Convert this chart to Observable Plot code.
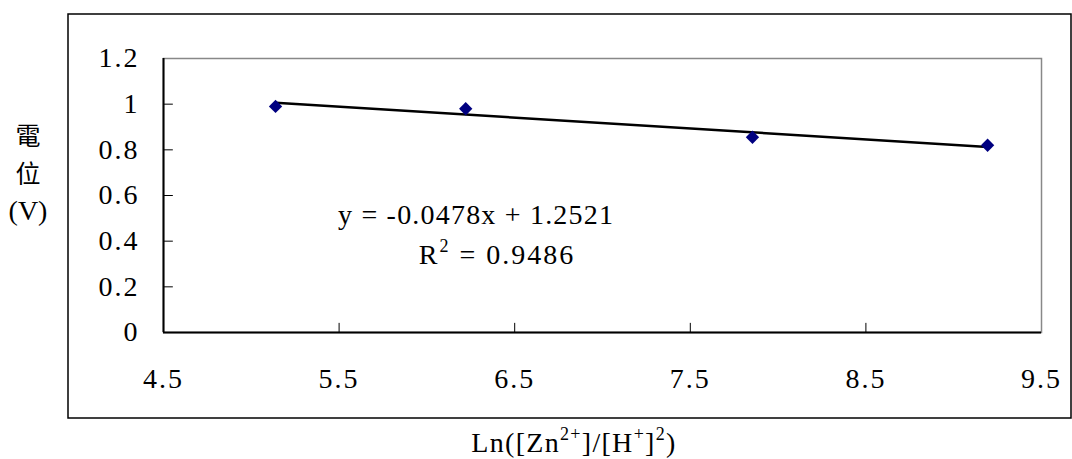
<!DOCTYPE html>
<html>
<head>
<meta charset="utf-8">
<script src="https://cdn.jsdelivr.net/npm/d3@7"></script>
<script src="https://cdn.jsdelivr.net/npm/@observablehq/plot@0.6"></script>
<style>
  html, body { margin: 0; padding: 0; background: #fff; }
  #chart { width: 1072px; height: 459px; }
  #chart svg, #chart svg text { font-family: "Liberation Serif", "DejaVu Serif", serif !important; }
  #chart svg text.cjk, #chart svg tspan.cjk { font-family: "Noto Sans CJK TC", sans-serif !important; }
  #chart g[aria-label="x-axis tick label"] text,
  #chart g[aria-label="y-axis tick label"] text { letter-spacing: 2px; }
  #chart g[aria-label="text"] text { letter-spacing: 1.2px; }
</style>
</head>
<body>
<div id="chart"></div>
<script>
// Data
const xValues = [5.138, 6.221, 7.854, 9.193];
const yValues = [0.99, 0.98, 0.855, 0.82];
const slope = -0.0478;
const intercept = 1.2521;
const xTicks = [4.5, 5.5, 6.5, 7.5, 8.5, 9.5];
const yTicks = [0, 0.2, 0.4, 0.6, 0.8, 1, 1.2];
const yTickLabels = ["0", "0.2", "0.4", "0.6", "0.8", "1", "1.2"];
const equationText = "y = -0.0478x + 1.2521";
const r2Value = "0.9486";
const yLabelLines = ["電", "位", "(V)"];

const points = xValues.map((x, i) => ({x, y: yValues[i]}));
const xMin = d3.min(xValues), xMax = d3.max(xValues);
const trend = [xMin, xMax].map(x => ({x, y: slope * x + intercept}));

const serif = "Liberation Serif";
const fs = 28;

const chart = Plot.plot({
  width: 1072,
  height: 459,
  marginLeft: 163,
  marginRight: 31,
  marginTop: 58,
  marginBottom: 127,
  style: {fontSize: fs + "px", color: "#000", background: "#fff", overflow: "visible"},
  x: {domain: [4.5, 9.5]},
  y: {domain: [0, 1.2]},
  marks: [
    Plot.frame({stroke: "#888", strokeWidth: 1.5}),
    Plot.axisX({ticks: xTicks, tickSize: 0, tickPadding: 36, tickFormat: d => String(d), fontSize: fs, fontFamily: serif, label: null}),
    Plot.axisY({ticks: yTicks, tickSize: 0, tickPadding: 24, tickFormat: d => yTickLabels[yTicks.indexOf(d)], fontSize: fs, fontFamily: serif, label: null}),
    Plot.ruleX(xTicks.slice(1, -1), {x: d => d, y1: 0, y2: 0.04, stroke: "#000", strokeWidth: 1}),
    Plot.ruleY(yTicks.slice(1, -1), {y: d => d, x1: 4.5, x2: 4.556, stroke: "#000", strokeWidth: 1}),
    Plot.ruleY([0], {x1: 4.5, x2: 9.5, stroke: "#000", strokeWidth: 2}),
    Plot.ruleX([4.5], {y1: 0, y2: 1.2, stroke: "#000", strokeWidth: 2}),
    Plot.line(trend, {x: "x", y: "y", stroke: "#000", strokeWidth: 2.5}),
    Plot.dot(points, {x: "x", y: "y", symbol: "diamond2", r: 6, fill: "#000080", stroke: "none"}),
    Plot.text([equationText], {x: 6.28, y: 0.515, text: d => d, fontSize: fs, fontFamily: serif, fill: "#000"})
  ]
});
document.getElementById("chart").appendChild(chart);

// Decorations: outer border, stacked y label, superscripted texts
const svg = d3.select(chart);
svg.insert("rect", ":first-child")
  .attr("x", 68).attr("y", 14).attr("width", 1003).attr("height", 404)
  .attr("fill", "none").attr("stroke", "#000").attr("stroke-width", 1.5);

const yPos = [136, 174, 211];
yLabelLines.forEach((t, i) => {
  svg.append("text").attr("x", 28).attr("y", yPos[i] + 9)
    .attr("text-anchor", "middle").attr("fill", "#000")
    .attr("class", i < 2 ? "cjk" : null)
    .attr("font-size", i < 2 ? 25 : fs)
    .text(t);
});

const r2 = svg.append("text").attr("x", 497).attr("y", 264).attr("text-anchor", "middle")
  .attr("font-size", fs).attr("fill", "#000").attr("letter-spacing", 2);
r2.append("tspan").text("R");
r2.append("tspan").attr("dy", -12).attr("font-size", 18).text("2");
r2.append("tspan").attr("dy", 12).text(" = " + r2Value);

const xt = svg.append("text").attr("x", 574).attr("y", 452).attr("text-anchor", "middle")
  .attr("font-size", fs).attr("fill", "#000").attr("letter-spacing", 1.3);
xt.append("tspan").text("Ln([Zn");
xt.append("tspan").attr("dy", -12).attr("font-size", 18).text("2+");
xt.append("tspan").attr("dy", 12).text("]/[H");
xt.append("tspan").attr("dy", -12).attr("font-size", 18).text("+");
xt.append("tspan").attr("dy", 12).text("]");
xt.append("tspan").attr("dy", -12).attr("font-size", 18).text("2");
xt.append("tspan").attr("dy", 12).text(")");
</script>
</body>
</html>
